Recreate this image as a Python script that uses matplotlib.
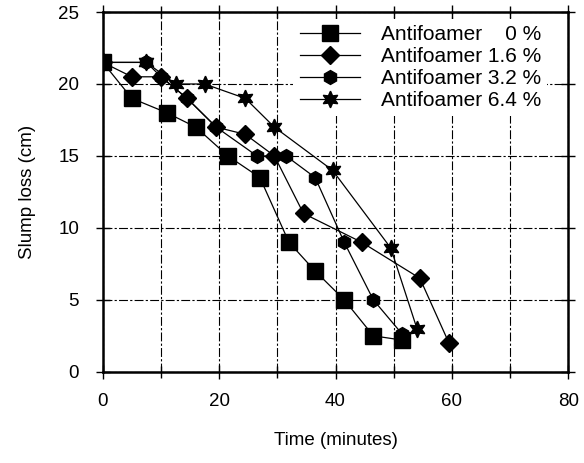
import matplotlib.pyplot as plt
from matplotlib.ticker import MultipleLocator

plt.rcParams['font.family'] = ['Liberation Sans', 'DejaVu Sans']

# data (time in minutes, slump loss in cm)
t_0 = [0, 5, 11, 16, 21.5, 27, 32, 36.5, 41.5, 46.5, 51.5]
s_0 = [21.5, 19, 18, 17, 15, 13.5, 9, 7, 5, 2.5, 2.2]

t_16 = [0, 5, 10, 14.5, 19.5, 24.5, 29.5, 34.5, 44.5, 54.5, 59.5]
s_16 = [21.5, 20.5, 20.5, 19, 17, 16.5, 15, 11, 9, 6.5, 2]

t_32 = [0, 7.5, 10, 14.5, 19.5, 26.5, 31.5, 36.5, 41.5, 46.5, 51.5]
s_32 = [21.5, 21.5, 20.5, 19, 17, 15, 15, 13.5, 9, 5, 2.6]

t_64 = [0, 7.5, 12.5, 17.5, 24.5, 29.5, 39.5, 49.5, 54]
s_64 = [21.5, 21.5, 20, 20, 19, 17, 14, 8.6, 3]

labels = ['Antifoamer    0 %', 'Antifoamer 1.6 %', 'Antifoamer 3.2 %', 'Antifoamer 6.4 %']

fig = plt.figure(figsize=(5.84, 4.63), dpi=100)
ax = fig.add_axes([0.176, 0.197, 0.797, 0.777])

ax.plot(t_0, s_0, color='black', lw=0.9, marker='s', ms=11, label=labels[0])
ax.plot(t_16, s_16, color='black', lw=0.9, marker='D', ms=9, label=labels[1])
ax.plot(t_32, s_32, color='black', lw=0.9, marker='h', ms=10, label=labels[2])
ax.plot(t_64, s_64, color='black', lw=0.9, marker=(6, 1, 0), ms=12, label=labels[3])

ax.set_xlim(0, 80)
ax.set_ylim(0, 25)
ax.xaxis.set_major_locator(MultipleLocator(20))
ax.xaxis.set_minor_locator(MultipleLocator(10))
ax.yaxis.set_major_locator(MultipleLocator(5))

ax.grid(True, which='both', axis='x', color='black', lw=0.8, linestyle=(0, (8, 2, 2, 2)))
ax.grid(True, which='major', axis='y', color='black', lw=0.8, linestyle=(0, (8, 2, 2, 2)))

for sp in ax.spines.values():
    sp.set_linewidth(1.8)

ax.tick_params(which='both', direction='inout', length=10, width=1, labelsize=13.5,
               top=True, right=True)
ax.tick_params(axis='x', pad=10)
ax.tick_params(axis='y', pad=12)
ax.tick_params(which='minor', length=8)

ax.set_xlabel('Time (minutes)', fontsize=13.5, labelpad=16)
ax.set_ylabel('Slump loss (cm)', fontsize=13.5, labelpad=16)

leg = ax.legend(loc='upper right', frameon=True, fontsize=15, handlelength=2.9,
                labelspacing=0.14, borderaxespad=0.0, handletextpad=1.0,
                borderpad=0.3, bbox_to_anchor=(0.955, 0.98))
leg.get_frame().set_edgecolor('none')
leg.get_frame().set_alpha(1)

fig.savefig('out.png', dpi=100)
